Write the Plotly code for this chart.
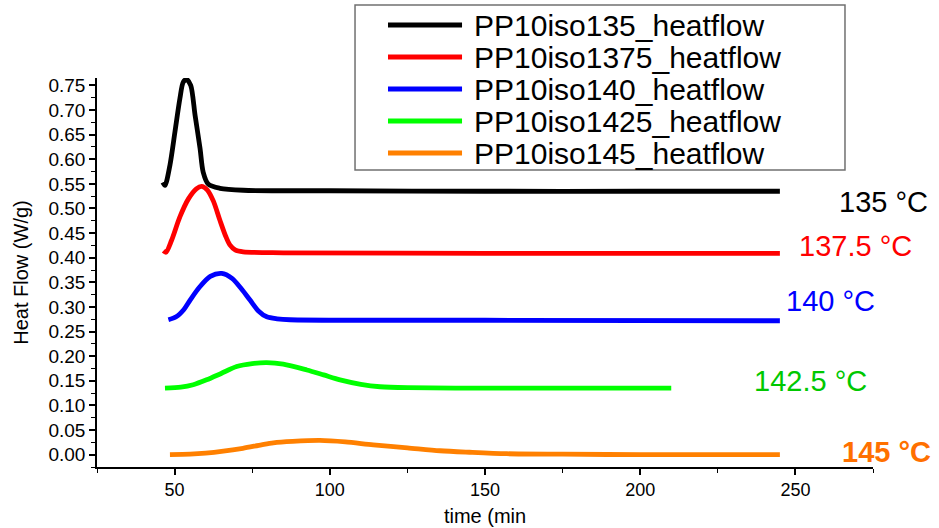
import plotly.graph_objects as go

# ---- data ----
names = ["PP10iso135_heatflow", "PP10iso1375_heatflow", "PP10iso140_heatflow",
         "PP10iso1425_heatflow", "PP10iso145_heatflow"]
colors = ["#000000", "#ff0000", "#0000ff", "#00ff00", "#ff8000"]

t135 = [46.2, 46.9, 48.5, 50.1, 51.7, 52.8, 53.9, 55.2, 56.6, 58.2, 59.2, 60.9, 64.6, 72.1, 100, 150, 200, 245]
v135 = [0.553, 0.547, 0.588, 0.655, 0.723, 0.757, 0.762, 0.750, 0.689, 0.622, 0.574, 0.549, 0.541, 0.537, 0.536, 0.535, 0.535, 0.535]

t1375 = [46.4, 47.2, 49.0, 51.7, 54.5, 57.0, 58.7, 60.5, 62.5, 64.6, 66.5, 67.8, 69.5, 72.1, 85, 150, 245]
v1375 = [0.414, 0.411, 0.435, 0.483, 0.520, 0.540, 0.545, 0.538, 0.515, 0.476, 0.443, 0.426, 0.416, 0.412, 0.410, 0.409, 0.409]

t140 = [48.0, 50.5, 53.0, 55.0, 58.0, 61.5, 65.2, 68.5, 71.5, 74.3, 77.0, 79.7, 83.0, 87.2, 150, 245]
v140 = [0.274, 0.280, 0.295, 0.314, 0.340, 0.362, 0.368, 0.358, 0.337, 0.314, 0.292, 0.280, 0.276, 0.274, 0.273, 0.272]

t1425 = [46.9, 52, 56, 60.3, 65, 70.0, 75, 79.7, 85, 92.6, 98, 103.3, 110, 116.2, 125, 150, 210]
v1425 = [0.135, 0.137, 0.142, 0.152, 0.165, 0.179, 0.185, 0.187, 0.184, 0.172, 0.162, 0.152, 0.143, 0.138, 0.136, 0.135, 0.135]

t145 = [48.5, 55, 60, 65.7, 72, 78, 81.8, 88, 96.8, 105, 114, 125, 135.5, 145, 157, 175, 200, 245]
v145 = [0.000, 0.001, 0.003, 0.007, 0.013, 0.020, 0.024, 0.027, 0.029, 0.026, 0.020, 0.014, 0.008, 0.005, 0.002, 0.001, 0.000, 0.000]

times = [t135, t1375, t140, t1425, t145]
values = [v135, v1375, v140, v1425, v145]

labels = ["135 °C", "137.5 °C", "140 °C", "142.5 °C", "<b>145 °C</b>"]
label_colors = ["#000000", "#ff0000", "#0000ff", "#00c800", "#ff7000"]
label_x = [1.014, 0.978, 0.945, 0.920, 1.017]
label_y = [0.681, 0.568, 0.427, 0.221, 0.039]

x_ticks = [50, 100, 150, 200, 250]

FONT = "Liberation Sans, Arial, sans-serif"

fig = go.Figure()
for n, c, t, v in zip(names, colors, times, values):
    fig.add_trace(go.Scatter(x=t, y=v, mode="lines", name=n, showlegend=False,
                             line=dict(color=c, width=4.8, shape="spline", smoothing=0.8)))

for txt, c, ax, ay in zip(labels, label_colors, label_x, label_y):
    fig.add_annotation(text=txt, x=ax, y=ay, xref="paper", yref="paper",
                       showarrow=False, font=dict(family=FONT, size=29, color=c),
                       xanchor="center", yanchor="middle")

# ---- legend box drawn in paper coordinates (layout styling) ----
LEG_X0, LEG_X1, LEG_Y0, LEG_Y1 = 0.3325, 0.9639, 0.7635, 1.1877
SW_X0, SW_X1, TXT_X = 0.375, 0.4704, 0.4832
ROW0, ROW_STEP = 1.1362, 0.0823
fig.add_shape(type="rect", xref="paper", yref="paper",
              x0=LEG_X0, x1=LEG_X1, y0=LEG_Y0, y1=LEG_Y1,
              line=dict(color="#707070", width=1.5), fillcolor="white", layer="above")
for i, (n, c) in enumerate(zip(names, colors)):
    ry = ROW0 - i * ROW_STEP
    fig.add_shape(type="line", xref="paper", yref="paper",
                  x0=SW_X0, x1=SW_X1, y0=ry, y1=ry,
                  line=dict(color=c, width=5), layer="above")
    fig.add_annotation(text=n, x=TXT_X, y=ry, xref="paper", yref="paper",
                       showarrow=False, xanchor="left", yanchor="middle",
                       font=dict(family=FONT, size=30, color="black"))

fig.update_layout(
    width=939, height=528,
    margin=dict(l=97, r=66, t=78, b=61, autoexpand=False),
    plot_bgcolor="white", paper_bgcolor="white",
    font=dict(family=FONT, color="black"),
    showlegend=False,
)

fig.update_xaxes(
    range=[25, 275], tickvals=x_ticks, ticktext=[str(v) for v in x_ticks],
    showline=True, linecolor="black", linewidth=1.5,
    ticks="outside", ticklen=6, tickwidth=1.5, tickcolor="black",
    minor=dict(dtick=25, tick0=25, ticks="outside", ticklen=4, tickcolor="black", tickwidth=1.2),
    showgrid=False, zeroline=False,
    tickfont=dict(family=FONT, size=18, color="black"),
    title=dict(text="time (min", font=dict(family=FONT, size=20, color="black"), standoff=10),
)
fig.update_yaxes(
    range=[-0.025, 0.765], dtick=0.05, tick0=0, tickformat=".2f",
    showline=True, linecolor="black", linewidth=1.5,
    ticks="outside", ticklen=6, tickwidth=1.5, tickcolor="black",
    minor=dict(dtick=0.025, tick0=0, ticks="outside", ticklen=4, tickcolor="black", tickwidth=1.2),
    showgrid=False, zeroline=False,
    tickfont=dict(family=FONT, size=19, color="black"),
    title=dict(text="Heat Flow (W/g)", font=dict(family=FONT, size=20, color="black"), standoff=14),
)

fig.write_html("out.html")
